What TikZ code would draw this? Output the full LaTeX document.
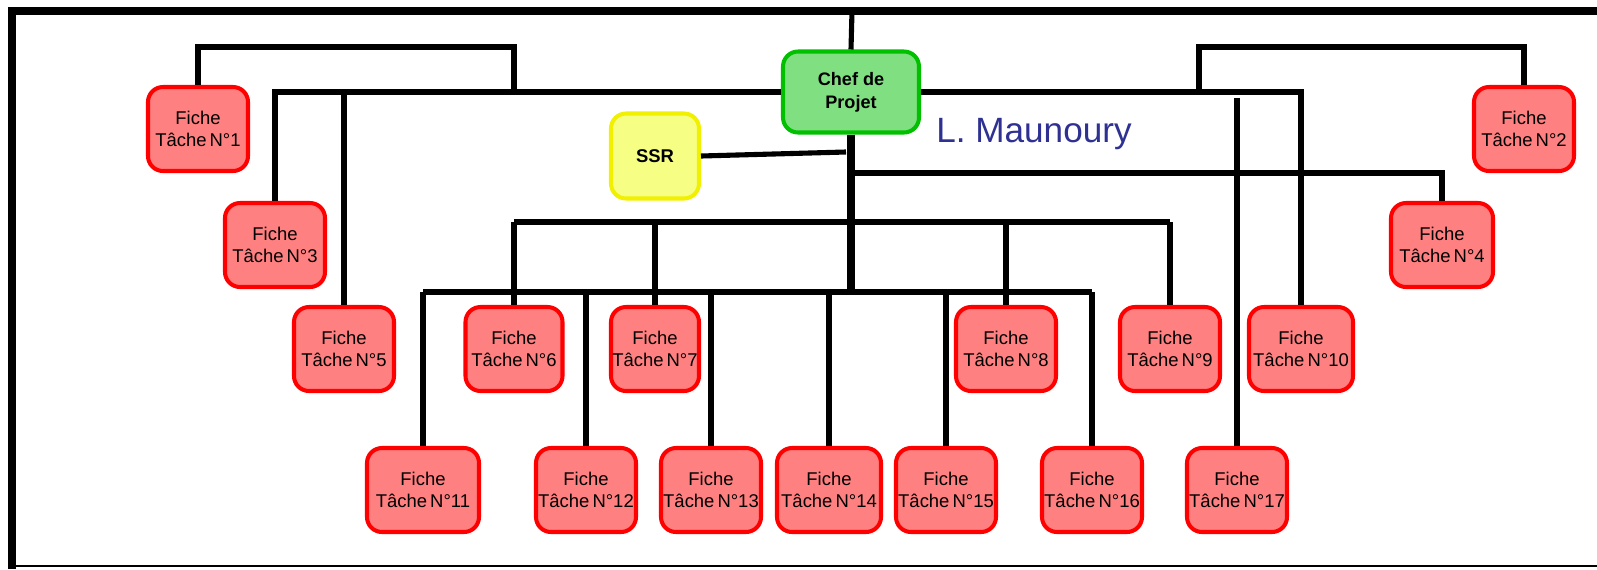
\documentclass[tikz,border=0pt]{standalone}
\usepackage{fontspec}
\setmainfont{Liberation Sans}
\usetikzlibrary{calc}

\definecolor{fichefond}{HTML}{FF8080}
\definecolor{fichebord}{HTML}{FF0000}
\definecolor{cheffond}{HTML}{80DF80}
\definecolor{chefbord}{HTML}{00C000}
\definecolor{ssrfond}{HTML}{F6FF84}
\definecolor{ssrbord}{HTML}{F0F000}
\definecolor{nommarine}{HTML}{2E3192}

\tikzset{
  boite/.style={rectangle, rounded corners=0.3cm, line width=2.3pt, inner sep=0pt,
    align=center, font=\fontsize{10.5}{12.5}\selectfont},
  fiche/.style={boite, draw=fichebord, fill=fichefond, minimum height=1.68cm},
  chef/.style={boite, draw=chefbord, fill=cheffond, minimum width=2.72cm,
    minimum height=1.62cm, font=\fontsize{10.3}{13}\selectfont\bfseries},
  ssr/.style={boite, draw=ssrbord, fill=ssrfond, minimum width=1.76cm,
    minimum height=1.7cm, font=\fontsize{10.5}{13}\selectfont\bfseries},
  lien/.style={draw=black, line width=2.9pt},
  tronc/.style={draw=black, line width=4.6pt}
}

\begin{document}
\begin{tikzpicture}[x=0.02cm, y=-0.02cm]
\useasboundingbox (0,0) rectangle (1597,569);

% Draw the frame
\draw[line width=4.5pt] (12,569) -- (12,11);
\draw[line width=4pt] (8,11) -- (1597,11);
\draw[line width=1.2pt] (8,566) -- (1597,566);

% Draw the head boxes
\node[chef] (chef) at (851,92) {Chef de\\Projet};
\node[ssr] (ssr) at (655,156) {SSR};
\node[text=nommarine, font=\fontsize{20}{24}\selectfont] (nom) at (1034,134) {L. Maunoury};

% Draw the task sheets
\foreach \n/\x/\y/\w in {1/198/129/100, 2/1524/129/100, 3/275/245/100, 4/1442/245/102,
    5/344/349/100, 6/514/349/97, 7/655/349/88, 8/1006/349/100, 9/1170/349/100,
    10/1301/349/104, 11/423/490/112, 12/586/490/100, 13/711/490/100,
    14/829/490/104, 15/946/490/100, 16/1092/490/100, 17/1237/490/100} {
  \node[fiche, minimum width=\w*0.02cm] (f\n) at (\x,\y) {Fiche\\Tâche\,N°\n};
}

% Points where the links meet
\coordinate (haut) at (852,11);
\coordinate (crochetG) at (514,47);
\coordinate (crochetD) at (1199,47);
\coordinate (depart17) at (1237,98);
\coordinate (ssrjonc) at (846,152);
\coordinate (branche4) at (851,173);
\coordinate (bus3) at (851,222);
\coordinate (bus4) at (851,292);

% Draw the links
\draw[lien] (haut) -- (chef.north);
\draw[lien] (f3.north) |- (chef.west);
\draw[lien] (chef.east) -| (f10.north);
\draw[lien] (f5.north) -- (f5.north |- chef.west);
\draw[lien] (f1.north) |- (crochetG) -- (crochetG |- chef.west);
\draw[lien] (f2.north) |- (crochetD) -- (crochetD |- chef.east);
\draw[lien] (depart17) -- (f17.north);
\draw[tronc] (chef.south) -- (bus4);
\draw[lien] (ssr.east) -- (ssrjonc);
\draw[lien] (branche4) -| (f4.north);

\draw[lien] (f6.north |- bus3) -- (f9.north |- bus3);
\foreach \i in {6,7,8,9} {
  \draw[lien] (f\i.north) -- (f\i.north |- bus3);
}

\draw[lien] (f11.north |- bus4) -- (f16.north |- bus4);
\foreach \i in {11,12,13,14,15,16} {
  \draw[lien] (f\i.north) -- (f\i.north |- bus4);
}

\end{tikzpicture}
\end{document}
